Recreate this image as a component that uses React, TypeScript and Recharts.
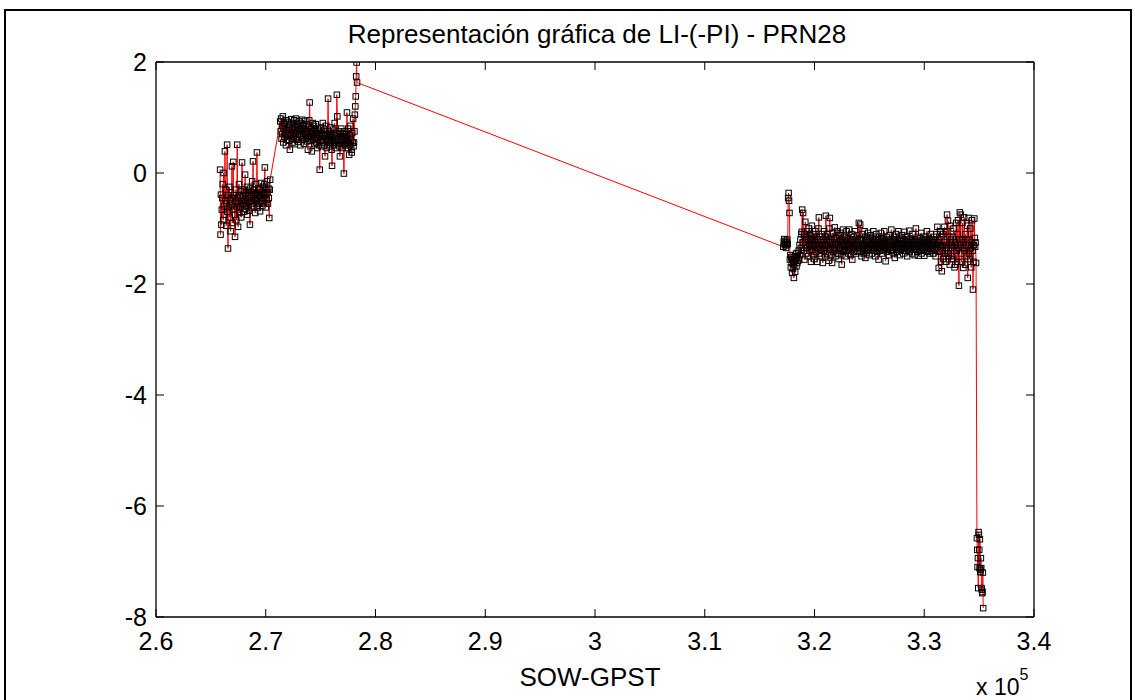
import React from 'react';
import { LineChart, Line, XAxis, YAxis } from 'recharts';

// Tiempo de la semana GPS (s) y combinación LI-(-PI) del PRN28, por arco de observación
const ARC1_START = 265840;
const ARC1_STEP = 40;
const arc1Values = [
  0.06, -1.11, -0.39, -0.93, -0.66, -0.45, -0.2, -0.85, 0.0, -0.6,
  -0.75, 0.39, -0.5, -0.3, -0.95, -0.55, 0.51, -0.7, -1.36, -0.4,
  -0.62, -0.25, -0.8, -0.48, -1.05, -0.35, -0.58, 0.12, -0.9, -0.45,
  0.2, -0.66, -0.4, -0.75, -1.15, -0.52, -0.3, -0.85, -0.6, 0.51,
  -0.45, -0.97, -0.55, -0.2, -0.72, -0.4, -0.62, -0.33, -0.8, -0.5,
  0.19, -0.58, -0.42, -0.7, -0.3, -0.55, -0.65, -0.03, -0.48, -0.36,
  -0.6, -0.25, -0.75, -0.45, -0.32, -0.52, -0.68, -0.4, -0.93, -0.28,
  -0.5, -0.62, -0.35, -0.15, -0.55, 0.21, -0.42, -0.6, -0.3, -0.48,
  -0.72, -0.38, -0.2, -0.5, 0.37, -0.45, -0.62, -0.28, -0.4, -0.55,
  -0.3, -0.69, -0.42, -0.18, -0.5, -0.35, -0.6, -0.25, -0.45, -0.38,
  -0.55, -0.2, 0.1, -0.4, -0.62, -0.3, -0.48, -0.15, -0.35, -0.55,
  -0.28, -0.45, -0.81, -0.3, -0.12,
];

const ARC2_START = 271320;
const ARC2_STEP = 40;
const arc2Values = [
  0.93, 0.75, 0.98, 0.62, 0.85, 0.7, 1.02, 0.55, 0.8, 0.9,
  0.65, 0.88, 0.72, 0.5, 0.95, 0.78, 0.6, 0.92, 0.68, 0.83,
  0.58, 0.76, 0.42, 0.87, 0.7, 0.97, 0.62, 0.8, 0.55, 0.9,
  0.73, 0.66, 0.95, 0.52, 0.82, 0.69, 0.98, 0.6, 0.77, 0.88,
  0.64, 0.85, 0.56, 0.93, 0.71, 0.8, 0.5, 0.9, 0.67, 0.78,
  0.96, 0.6, 0.74, 0.86, 0.53, 0.8, 0.69, 0.94, 0.62, 0.75,
  0.88, 0.57, 0.7, 0.42, 0.83, 0.65, 0.95, 1.27, 0.72, 0.58,
  0.8, 0.66, 0.39, 0.75, 0.9, 0.6, 0.7, 0.85, 0.52, 0.78,
  0.64, 0.88, 0.55, 0.72, 0.45, 0.8, 0.62, 0.7, 0.5, 0.76,
  0.06, 0.68, 0.58, 0.82, 0.48, 0.72, 0.6, 0.9, 0.55, 0.66,
  0.78, 0.5, 0.3, 0.7, 0.62, 0.85, 0.45, 0.68, 0.57, 1.34,
  0.6, 0.75, 0.48, 0.66, 0.82, 0.55, 0.7, 0.42, 0.13, 0.64,
  0.58, 0.78, 0.5, 0.68, 0.9, 0.55, 0.62, 0.45, 0.72, 1.41,
  1.02, 0.6, 0.52, 0.75, 0.65, 0.48, 0.3, 0.7, 0.58, 0.8,
  0.55, 0.66, 0.45, 0.72, 0.6, -0.01, 0.52, 0.75, 0.64, 0.5,
  0.7, 0.58, 1.09, 0.62, 0.45, 0.8, 0.55, 0.33, 0.68, 0.5,
  0.85, 0.6, 0.42, 0.37, 0.72, 0.55, 0.98, 0.48, 0.55, 0.75,
  1.05, 1.2, 1.38, 1.74, 1.99, 1.63,
];

const ARC3_START = 317160;
const ARC3_STEP = 40;
const arc3Values = [
  -1.33, -1.24, -1.19, -1.28, -1.3, -1.22, -1.35, -1.25, -1.3, -1.2,
  -1.28, -0.45, -0.36, -0.5, -0.72, -1.56, -1.48, -1.7, -1.52, -1.62,
  -1.8, -1.55, -1.72, -1.6, -1.89, -1.65, -1.5, -1.78, -1.58, -1.45,
  -1.68, -1.52, -1.62, -1.44, -1.58, -1.4, -1.55, -1.3, -1.48, -1.2,
  -1.35, -1.1, -1.06, -0.66, -1.25, -0.72, -1.4, -1.1, -1.56, -1.2,
  -0.88, -1.3, -1.15, -1.45, -1.05, -1.35, -1.2, -1.5, -1.0, -1.28,
  -1.4, -1.12, -1.32, -1.6, -1.18, -0.95, -1.38, -1.25, -1.48, -1.1,
  -1.3, -1.55, -1.22, -1.05, -1.42, -1.28, -1.15, -1.6, -1.35, -1.2,
  -1.0, -0.8, -1.3, -1.45, -1.15, -1.38, -1.25, -1.5, -1.1, -1.32,
  -1.62, -1.2, -1.4, -1.05, -1.28, -1.52, -1.15, -0.77, -1.35, -1.22,
  -1.45, -1.1, -1.3, -1.58, -1.2, -1.0, -0.81, -1.38, -1.25, -1.48,
  -1.15, -1.62, -1.3, -1.08, -1.42, -1.2, -1.35, -0.98, -1.28, -1.5,
  -1.18, -1.36, -1.05, -1.45, -1.25, -1.3, -1.55, -1.12, -1.4, -1.22,
  -1.35, -1.08, -1.48, -1.65, -1.2, -1.3, -1.02, -1.42, -1.25, -1.38,
  -1.15, -1.32, -1.5, -1.22, -1.05, -1.4, -1.28, -1.18, -1.45, -1.3,
  -1.02, -1.35, -1.2, -1.48, -1.25, -1.1, -1.38, -1.56, -1.22, -1.32,
  -1.15, -1.42, -1.28, -1.05, -1.35, -1.2, -1.45, -1.3, -1.12, -1.4,
  -1.25, -1.35, -0.9, -1.3, -1.18, -0.93, -1.42, -1.22, -1.5, -1.28,
  -1.1, -1.36, -1.2, -1.45, -1.3, -1.05, -1.38, -1.53, -1.22, -1.32,
  -1.15, -1.4, -1.25, -1.08, -1.35, -1.2, -1.48, -1.28, -1.12, -1.38,
  -1.22, -1.3, -1.45, -1.18, -1.35, -1.05, -1.4, -1.25, -1.32, -1.5,
  -1.2, -1.36, -1.1, -1.28, -1.42, -1.22, -1.3, -1.56, -1.15, -1.35,
  -1.25, -1.4, -1.08, -1.3, -1.2, -1.45, -1.32, -1.18, -1.38, -1.26,
  -1.05, -1.35, -1.22, -1.59, -1.3, -1.15, -1.42, -1.25, -1.36, -1.2,
  -1.3, -1.48, -1.12, -1.34, -1.24, -1.4, -1.02, -1.3, -1.2, -1.38,
  -1.25, -1.45, -1.15, -1.32, -1.53, -1.22, -1.35, -1.1, -1.28, -1.42,
  -1.2, -1.33, -1.05, -1.38, -1.26, -1.48, -1.18, -1.3, -1.4, -1.22,
  -1.35, -1.12, -1.3, -1.45, -1.2, -1.36, -1.06, -1.28, -1.4, -1.24,
  -1.32, -1.15, -1.5, -1.25, -1.38, -1.2, -1.3, -1.04, -1.42, -1.28,
  -1.18, -1.35, -1.22, -1.45, -1.3, -1.1, -1.38, -1.25, -1.33, -1.48,
  -1.2, -1.3, -1.0, -1.36, -1.22, -1.42, -1.15, -1.28, -1.49, -1.25,
  -1.35, -1.18, -1.4, -1.3, -1.08, -1.45, -1.22, -1.32, -1.2, -1.38,
  -1.26, -1.49, -1.15, -1.3, -1.4, -1.2, -1.35, -1.05, -1.28, -1.42,
  -1.22, -1.32, -1.18, -1.45, -1.25, -1.36, -1.1, -1.3, -1.4, -1.2,
  -1.34, -1.25, -1.45, -1.15, -1.3, -1.38, -1.22, -1.5, -1.28, -1.1,
  -1.35, -0.97, -1.3, -1.25, -1.71, -1.2, -1.42, -1.05, -1.3, -1.6,
  -1.15, -1.77, -1.3, -1.4, -1.1, -1.55, -1.25, -0.97, -1.45, -1.3,
  -1.6, -1.05, -1.35, -0.75, -1.45, -0.86, -1.3, -1.5, -1.15, -1.65,
  -0.95, -1.35, -1.2, -1.5, -1.3, -1.25, -1.15, -1.55, -1.0, -1.4,
  -1.7, -1.25, -1.65, -1.3, -0.9, -1.4, -1.6, -1.1, -0.85, -1.35,
  -2.03, -1.2, -0.71, -1.3, -0.75, -1.45, -1.6, -1.2, -0.9, -1.35,
  -1.71, -1.25, -0.8, -1.4, -1.65, -1.1, -1.3, -1.5, -1.2, -0.95,
  -1.89, -1.3, -0.81, -1.45, -1.2, -1.55, -1.0, -1.35, -1.7, -1.25,
  -0.85, -1.4, -2.1, -1.6, -1.3, -0.82, -1.17, -1.33, -1.25, -1.62,
];

const ARC4_START = 334800;
const ARC4_STEP = 30;
const arc4Values = [
  -6.58, -6.79, -7.1, -6.94, -7.48, -6.47, -6.52, -6.79, -7.12, -6.6,
  -7.19, -7.15, -6.94, -7.12, -7.48, -7.51, -7.57, -7.55, -7.2, -7.84,
];

const xTicks = [260000, 270000, 280000, 290000, 300000, 310000, 320000, 330000, 340000];
const xTickLabels = ['2.6', '2.7', '2.8', '2.9', '3', '3.1', '3.2', '3.3', '3.4'];
const yTicks = [2, 0, -2, -4, -6, -8];
const yTickLabels = ['2', '0', '-2', '-4', '-6', '-8'];

const TITLE = 'Representación gráfica de LI-(-PI) - PRN28';
const X_LABEL = 'SOW-GPST';

type Point = { sow: number; li: number };

const toArc = (start: number, step: number, values: number[]): Point[] =>
  values.map((li, i) => ({ sow: start + i * step, li }));

const data: Point[] = [
  ...toArc(ARC1_START, ARC1_STEP, arc1Values),
  ...toArc(ARC2_START, ARC2_STEP, arc2Values),
  ...toArc(ARC3_START, ARC3_STEP, arc3Values),
  ...toArc(ARC4_START, ARC4_STEP, arc4Values),
];

const FONT = '"Liberation Sans", Arial, Helvetica, sans-serif';
const TICK_LEN = 8;

// Ticks are drawn inward from each side of the box; the tick's (x, y) lies on the axis line.
const BottomTick = (props: any) => {
  const { x, y, payload } = props;
  const idx = xTicks.indexOf(payload.value);
  return (
    <g>
      <line x1={x} y1={y} x2={x} y2={y - TICK_LEN} stroke="#000" strokeWidth={1} />
      <text x={x} y={y + 33} textAnchor="middle" fontSize={25} fontFamily={FONT} fill="#000">
        {xTickLabels[idx]}
      </text>
    </g>
  );
};

const TopTick = (props: any) => {
  const { x, y } = props;
  return <line x1={x} y1={y} x2={x} y2={y + TICK_LEN} stroke="#000" strokeWidth={1} />;
};

const LeftTick = (props: any) => {
  const { x, y, payload } = props;
  const idx = yTicks.indexOf(payload.value);
  return (
    <g>
      <line x1={x} y1={y} x2={x + TICK_LEN} y2={y} stroke="#000" strokeWidth={1} />
      <text x={x - 9} y={y + 9} textAnchor="end" fontSize={25} fontFamily={FONT} fill="#000">
        {yTickLabels[idx]}
      </text>
    </g>
  );
};

const RightTick = (props: any) => {
  const { x, y } = props;
  return <line x1={x} y1={y} x2={x - TICK_LEN} y2={y} stroke="#000" strokeWidth={1} />;
};

const SquareDot = (props: any) => {
  const { cx, cy, index } = props;
  if (cx == null || cy == null) return <g key={index} />;
  return (
    <rect
      key={index}
      x={cx - 2.75}
      y={cy - 2.75}
      width={5.5}
      height={5.5}
      fill="none"
      stroke="#000"
      strokeWidth={1}
    />
  );
};

const axisLineStyle = { stroke: '#000', strokeWidth: 1.3 };

export default function App() {
  return (
    <div style={{ position: 'absolute', left: 0, top: 0, width: 1135, height: 700, background: '#fff', overflow: 'hidden' }}>
      <div
        style={{
          position: 'absolute',
          left: 4,
          top: 9,
          width: 1124,
          height: 700,
          borderLeft: '2px solid #000',
          borderTop: '2px solid #000',
          borderRight: '2px solid #000',
        }}
      />
      <div
        style={{
          position: 'absolute',
          left: 0,
          width: 1194,
          top: 19,
          textAlign: 'center',
          fontFamily: FONT,
          fontSize: 26,
          lineHeight: '30px',
          color: '#000',
        }}
      >
        {TITLE}
      </div>
      <div style={{ position: 'absolute', left: 0, top: 0 }}>
        <LineChart
          width={1135}
          height={700}
          data={data}
          margin={{ top: 52, right: 91, bottom: 53, left: 116 }}
        >
          <XAxis
            xAxisId="bottom"
            orientation="bottom"
            dataKey="sow"
            type="number"
            domain={[260000, 340000]}
            ticks={xTicks}
            allowDataOverflow
            height={30}
            tickSize={0}
            tickMargin={0}
            tick={<BottomTick />}
            axisLine={axisLineStyle}
            tickLine={false}
            interval={0}
          />
          <XAxis
            xAxisId="top"
            orientation="top"
            dataKey="sow"
            type="number"
            domain={[260000, 340000]}
            ticks={xTicks}
            allowDataOverflow
            height={10}
            tickSize={0}
            tickMargin={0}
            tick={<TopTick />}
            axisLine={axisLineStyle}
            tickLine={false}
            interval={0}
          />
          <YAxis
            yAxisId="left"
            orientation="left"
            type="number"
            domain={[-8, 2]}
            ticks={yTicks}
            allowDataOverflow
            width={40}
            tickSize={0}
            tickMargin={0}
            tick={<LeftTick />}
            axisLine={axisLineStyle}
            tickLine={false}
            interval={0}
          />
          <YAxis
            yAxisId="right"
            orientation="right"
            type="number"
            domain={[-8, 2]}
            ticks={yTicks}
            allowDataOverflow
            width={10}
            tickSize={0}
            tickMargin={0}
            tick={<RightTick />}
            axisLine={axisLineStyle}
            tickLine={false}
            interval={0}
          />
          <Line
            xAxisId="bottom"
            yAxisId="left"
            dataKey="li"
            type="linear"
            stroke="#ff0000"
            strokeWidth={1}
            dot={<SquareDot />}
            activeDot={false}
            isAnimationActive={false}
          />
        </LineChart>
      </div>
      <div
        style={{
          position: 'absolute',
          left: 0,
          width: 1180,
          top: 662,
          textAlign: 'center',
          fontFamily: FONT,
          fontSize: 26,
          lineHeight: '30px',
          color: '#000',
        }}
      >
        {X_LABEL}
      </div>
      <div
        style={{
          position: 'absolute',
          left: 976,
          top: 674,
          fontFamily: FONT,
          fontSize: 23,
          lineHeight: '26px',
          color: '#000',
          whiteSpace: 'nowrap',
        }}
      >
        x 10<span style={{ position: 'relative', top: -15, fontSize: 16 }}>5</span>
      </div>
    </div>
  );
}
